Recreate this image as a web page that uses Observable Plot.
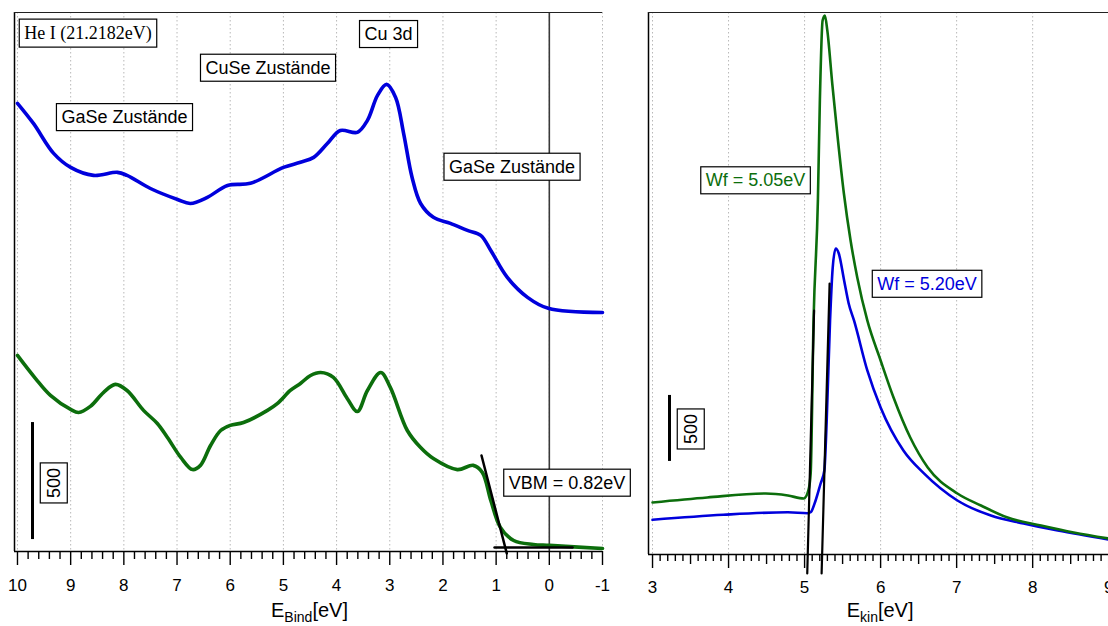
<!DOCTYPE html>
<html><head><meta charset="utf-8">
<script src="https://cdn.jsdelivr.net/npm/d3@7"></script>
<script src="https://cdn.jsdelivr.net/npm/@observablehq/plot@0.6"></script>
<style>
html,body{margin:0;padding:0;background:#fff;overflow:hidden;}
#wrap{position:relative;width:1108px;height:626px;overflow:hidden;background:#fff;}
#left,#right{position:absolute;top:0;}
#left{left:0;} #right{left:640px;}
</style></head><body><div id="wrap"><div id="left"></div><div id="right"></div></div>
<script>
// ---------- data: left panel (binding energy, He I UPS) ----------
const bindTicks = [10, 9, 8, 7, 6, 5, 4, 3, 2, 1, 0, -1];
const bindEGreen = [10, 9.66, 9.38, 9.0, 8.85, 8.63, 8.38, 8.16, 7.94, 7.63, 7.37, 7.18, 6.93, 6.71, 6.56, 6.37, 6.18, 6.0, 5.75, 5.30, 5.11, 4.87, 4.68, 4.49, 4.30, 4.06, 3.80, 3.61, 3.42, 3.17, 2.99, 2.67, 2.42, 2.18, 1.73, 1.43, 1.26, 1.10, 0.92, 0.67, 0.30, 0.0, -1];
const bindGreen = [838, 739, 667, 607, 594, 620, 680, 714, 688, 603, 547, 487, 402, 350, 368, 453, 517, 539, 551, 603, 633, 688, 718, 752, 765, 744, 654, 598, 688, 765, 701, 517, 444, 397, 350, 368, 338, 218, 103, 47, 30, 26, 13];
const bindEBlue = [10, 9.70, 9.32, 9.0, 8.57, 8.12, 7.94, 7.50, 6.99, 6.75, 6.43, 6.05, 5.62, 5.0, 4.68, 4.43, 4.17, 3.93, 3.61, 3.42, 3.23, 3.06, 2.89, 2.74, 2.58, 2.42, 2.18, 1.86, 1.54, 1.29, 1.10, 0.79, 0.41, 0.02, -1];
const bindBlue = [1915, 1829, 1701, 1641, 1607, 1620, 1607, 1551, 1504, 1487, 1513, 1564, 1573, 1641, 1663, 1684, 1744, 1799, 1791, 1842, 1949, 1996, 1940, 1787, 1598, 1487, 1428, 1402, 1372, 1351, 1286, 1171, 1086, 1039, 1021];
const vbmSlopeE = [1.275, 0.80];
const vbmSlopeV = [410, -8];
const vbmBaseE = [1.03, -0.436];
const vbmBaseV = [17, 17];
const bindLabels = ["CuSe Zustände", "GaSe Zustände", "Cu 3d", "GaSe Zustände", "VBM = 0.82eV"];
const bindLabelE = [5.289, 7.988, 3.023, 0.701, -0.333];
const bindLabelV = [2066, 1855, 2210, 1643, 293];
const sourceLabel = ["He I (21.2182eV)"];

// ---------- data: right panel (kinetic energy, secondary edge) ----------
const kinTicks = [3, 4, 5, 6, 7, 8, 9];
const kinEGreen = [3.0, 3.72, 4.49, 4.78, 4.99, 5.05, 5.08, 5.118, 5.175, 5.201, 5.237, 5.267, 5.299, 5.364, 5.43, 5.517, 5.605, 5.693, 5.825, 6.0, 6.17, 6.39, 6.62, 7.01, 7.32, 7.67, 8.11, 8.54, 9.0];
const kinGreen = [394, 432, 462, 447, 424, 485, 614, 1773, 2682, 3439, 4045, 4083, 3970, 3568, 3189, 2735, 2379, 2099, 1773, 1470, 1189, 886, 659, 462, 371, 280, 220, 167, 121];
const kinEBlue = [3.0, 3.93, 4.78, 5.04, 5.08, 5.145, 5.21, 5.26, 5.29, 5.335, 5.37, 5.41, 5.45, 5.52, 5.58, 5.65, 5.825, 6.0, 6.30, 6.57, 7.01, 7.45, 7.88, 8.33, 9.0];
const kinBlue = [263, 301, 320, 313, 320, 409, 536, 636, 1000, 1773, 2174, 2318, 2280, 2076, 1902, 1773, 1394, 1114, 788, 614, 409, 295, 235, 182, 114];
const wfLine1E = [5.035, 5.125];
const wfLine1V = [-144, 1848];
const wfLine2E = [5.224, 5.329];
const wfLine2V = [-144, 2053];
const kinLabels = ["Wf = 5.05eV", "Wf = 5.20eV"];
const kinLabelE = [4.355, 6.611];
const kinLabelV = [2833, 2049];

const scaleBarLabel = ["500"];
const bindBarE = 9.718, bindBarV = [51, 551], bindBarLabelE = 9.313, bindBarLabelV = 293;
const kinBarE = 3.223, kinBarV = [705, 1205], kinBarLabelE = 3.506, kinBarLabelV = 951;

// ---------- styling ----------
const GREEN = "#0c6e0c", BLUE = "#0000dc";
const SANS = "Liberation Sans, Arial, sans-serif";
const SERIF = "Liberation Serif, Times New Roman, serif";
const bindDomain = [10.056, -1], bindCount = [0, 2303];
const kinDomain = [2.947, 9.3], kinCount = [0, 4106];

const bindMinor = d3.range(-1, 10.001, 0.2).map(d => +d.toFixed(1)).filter(d => Math.abs(d - Math.round(d)) > 1e-6);
const kinMinor = d3.range(3, 9.3, 0.1).map(d => +d.toFixed(1)).filter(d => Math.abs(d * 2 - Math.round(d * 2)) > 1e-6);
const kinMid = d3.range(3.5, 9.3, 1);

const grid = {stroke: "#b8b8b8", strokeDasharray: "1.5,2.5", strokeWidth: 1};

const left = Plot.plot({
  width: 640, height: 626,
  marginLeft: 14, marginRight: 38, marginTop: 12, marginBottom: 75,
  x: {domain: bindDomain, label: null},
  y: {domain: bindCount, axis: null, label: null},
  style: {background: "transparent", overflow: "visible", maxWidth: "none", fontFamily: SANS, color: "black"},
  marks: [
    Plot.ruleX(bindTicks, grid),
    Plot.ruleX([0], {stroke: "#3a3a3a", strokeWidth: 1.6}),
    Plot.ruleX([bindDomain[0]], {stroke: "black", strokeWidth: 1.5}),
    Plot.ruleY([bindCount[1]], {stroke: "#222", strokeWidth: 1.2}),
    Plot.ruleY([0], {stroke: "black", strokeWidth: 1.5}),
    Plot.axisX(bindMinor, {tickSize: 8, tickFormat: () => "", strokeWidth: 1.4, label: null}),
    Plot.axisX(bindTicks, {tickSize: 14, tickPadding: 13, tickFormat: d => String(d), fontSize: 17, strokeWidth: 1.4, label: null}),
    Plot.line(bindEBlue.map((e, i) => [e, bindBlue[i]]), {x: "0", y: "1", stroke: BLUE, strokeWidth: 3.6, curve: "catmull-rom"}),
    Plot.line(bindEGreen.map((e, i) => [e, bindGreen[i]]), {x: "0", y: "1", stroke: GREEN, strokeWidth: 3.6, curve: "catmull-rom"}),
    Plot.line(vbmSlopeE.map((e, i) => [e, vbmSlopeV[i]]), {x: "0", y: "1", stroke: "black", strokeWidth: 2.5}),
    Plot.line(vbmBaseE.map((e, i) => [e, vbmBaseV[i]]), {x: "0", y: "1", stroke: "black", strokeWidth: 2.5}),
    Plot.ruleX([bindBarE], {y1: bindBarV[0], y2: bindBarV[1], stroke: "black", strokeWidth: 3}),
    Plot.text(scaleBarLabel, {x: () => bindBarLabelE, y: () => bindBarLabelV, text: d => d, rotate: -90, fontSize: 18}),
    Plot.text(sourceLabel, {x: () => 8.674, y: () => 2216, text: d => d, fontSize: 18, fontFamily: SERIF}),
    Plot.text(bindLabels, {x: (d, i) => bindLabelE[i], y: (d, i) => bindLabelV[i], text: d => d, fontSize: 18})
  ]
});

const right = Plot.plot({
  width: 501, height: 626,
  marginLeft: 8, marginRight: 10, marginTop: 12, marginBottom: 72,
  x: {domain: kinDomain, label: null},
  y: {domain: kinCount, axis: null, label: null},
  style: {background: "transparent", overflow: "visible", maxWidth: "none", fontFamily: SANS, color: "black"},
  marks: [
    Plot.ruleX(kinTicks, grid),
    Plot.ruleX([kinDomain[0]], {stroke: "black", strokeWidth: 1.5}),
    Plot.ruleY([kinCount[1]], {stroke: "#222", strokeWidth: 1.2}),
    Plot.ruleY([0], {stroke: "black", strokeWidth: 1.5}),
    Plot.axisX(kinMinor, {tickSize: 7, tickFormat: () => "", strokeWidth: 1.4, label: null}),
    Plot.axisX(kinMid, {tickSize: 10, tickFormat: () => "", strokeWidth: 1.4, label: null}),
    Plot.axisX(kinTicks, {tickSize: 14, tickPadding: 12, tickFormat: d => String(d), fontSize: 17, strokeWidth: 1.4, label: null}),
    Plot.line(kinEBlue.map((e, i) => [e, kinBlue[i]]), {x: "0", y: "1", stroke: BLUE, strokeWidth: 2.6, curve: "monotone-x"}),
    Plot.line(kinEGreen.map((e, i) => [e, kinGreen[i]]), {x: "0", y: "1", stroke: GREEN, strokeWidth: 2.6, curve: "monotone-x"}),
    Plot.line(wfLine1E.map((e, i) => [e, wfLine1V[i]]), {x: "0", y: "1", stroke: "black", strokeWidth: 2.2}),
    Plot.line(wfLine2E.map((e, i) => [e, wfLine2V[i]]), {x: "0", y: "1", stroke: "black", strokeWidth: 2.2}),
    Plot.ruleX([kinBarE], {y1: kinBarV[0], y2: kinBarV[1], stroke: "black", strokeWidth: 3}),
    Plot.text(scaleBarLabel, {x: () => kinBarLabelE, y: () => kinBarLabelV, text: d => d, rotate: -90, fontSize: 18}),
    Plot.text(kinLabels, {x: (d, i) => kinLabelE[i], y: (d, i) => kinLabelV[i], text: d => d, fontSize: 18, fill: (d, i) => [GREEN, BLUE][i]})
  ]
});

document.getElementById("left").append(left);
document.getElementById("right").append(right);

function boxLabels(svg) {
  svg.querySelectorAll('g[aria-label="text"] text').forEach(t => {
    const b = t.getBBox();
    const r = document.createElementNS("http://www.w3.org/2000/svg", "rect");
    r.setAttribute("x", b.x - 5);
    r.setAttribute("y", b.y - 3.5);
    r.setAttribute("width", b.width + 10);
    r.setAttribute("height", b.height + 7);
    r.setAttribute("fill", "white");
    r.setAttribute("stroke", "black");
    r.setAttribute("stroke-width", 1.2);
    if (t.getAttribute("transform")) r.setAttribute("transform", t.getAttribute("transform"));
    t.parentNode.insertBefore(r, t);
  });
}
boxLabels(left);
boxLabels(right);

function addTitle(svg, x, sub) {
  const t = d3.select(svg).append("text")
    .attr("x", x).attr("y", 617)
    .attr("text-anchor", "middle")
    .attr("font-size", 20).attr("font-family", SANS).attr("fill", "black");
  t.append("tspan").text("E");
  t.append("tspan").attr("font-size", 14).attr("dy", 5).text(sub);
  t.append("tspan").attr("dy", -5).text("[eV]");
}
addTitle(left, left.scale("x").apply(4.5), "Bind");
addTitle(right, right.scale("x").apply(6), "kin");
</script>
</body></html>
